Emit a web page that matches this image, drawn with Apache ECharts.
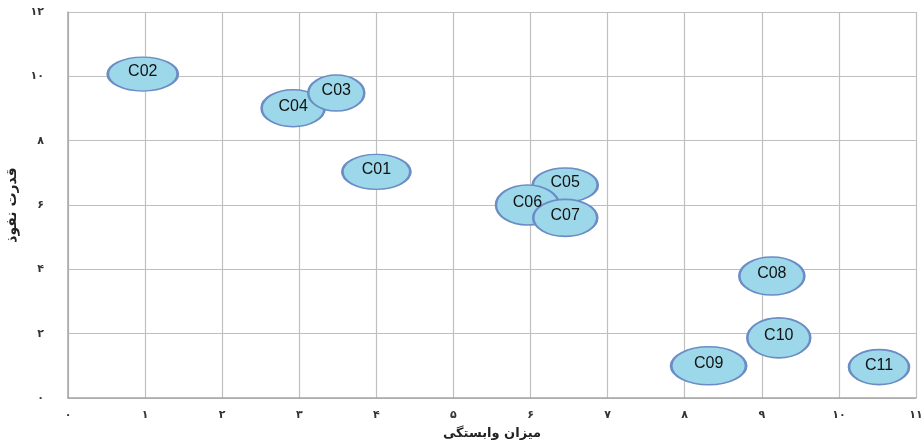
<!DOCTYPE html>
<html><head><meta charset="utf-8">
<script src="https://cdn.jsdelivr.net/npm/echarts@6/dist/echarts.min.js"></script>
<style>html,body{margin:0;padding:0;background:#fff}#c{width:923px;height:443px}</style>
</head><body><div id="c"></div>
<script>
const names = ['C01','C02','C04','C03','C05','C06','C07','C08','C09','C10','C11'];
const dependence = [4.0, 0.97, 2.92, 3.48, 6.45, 5.96, 6.45, 9.13, 8.31, 9.22, 10.52];
const influence = [7.03, 10.07, 9.01, 9.48, 6.62, 6.0, 5.6, 3.79, 1.0, 1.87, 0.96];
const bubbleW = [68, 70, 63, 56, 65, 63, 64, 65, 75, 63, 60];
const bubbleH = [35, 34, 37, 36, 34, 40, 37, 38, 38, 40, 35];
const xTitle = 'میزان وابستگی';
const yTitle = 'قدرت نفوذ';

const fa = d => String(d).replace(/[0-9]/g, c => '۰۱۲۳۴۵۶۷۸۹'[+c]);
const data = names.map((n, i) => ({ name: n, value: [dependence[i], influence[i]], symbolSize: [bubbleW[i], bubbleH[i]] }));

const chart = echarts.init(document.getElementById('c'));
chart.setOption({
  animation: false,
  grid: { left: 68, right: 7, top: 12, bottom: 45, containLabel: false, outerBoundsMode: 'none' },
  xAxis: {
    type: 'value', min: 0, max: 11, interval: 1,
    name: xTitle, nameLocation: 'middle', nameGap: 29,
    nameTextStyle: { fontFamily: 'DejaVu Sans', fontWeight: 'bold', fontSize: 13, color: '#222' },
    axisLine: { show: true, lineStyle: { color: '#a6a6a6', width: 1.5 } },
    axisTick: { show: false },
    axisLabel: { formatter: fa, margin: 12, fontFamily: 'DejaVu Sans', fontWeight: 'bold', fontSize: 11, color: '#333' },
    splitLine: { show: true, lineStyle: { color: '#bfbfbf', width: 1.2 } }
  },
  yAxis: {
    type: 'value', min: 0, max: 12, interval: 2,
    name: yTitle, nameLocation: 'middle', nameGap: 46, nameRotate: 90,
    nameTextStyle: { fontFamily: 'DejaVu Sans', fontWeight: 'bold', fontSize: 14, color: '#222' },
    axisLine: { show: true, lineStyle: { color: '#a6a6a6', width: 1.5 } },
    axisTick: { show: false },
    axisLabel: { formatter: fa, margin: 24, fontFamily: 'DejaVu Sans', fontWeight: 'bold', fontSize: 11, color: '#333' },
    splitLine: { show: true, lineStyle: { color: '#bfbfbf', width: 1.2 } }
  },
  series: [{
    type: 'scatter',
    symbol: 'circle',
    data: data,
    itemStyle: { color: '#9cd8ea', borderColor: '#6b8cc4', borderWidth: 2, opacity: 1 },
    label: { show: true, position: 'inside', formatter: '{b}', fontFamily: 'Liberation Sans', fontSize: 16, color: '#111', offset: [0, -2] },
    emphasis: { disabled: true }
  }]
});
</script></body></html>
